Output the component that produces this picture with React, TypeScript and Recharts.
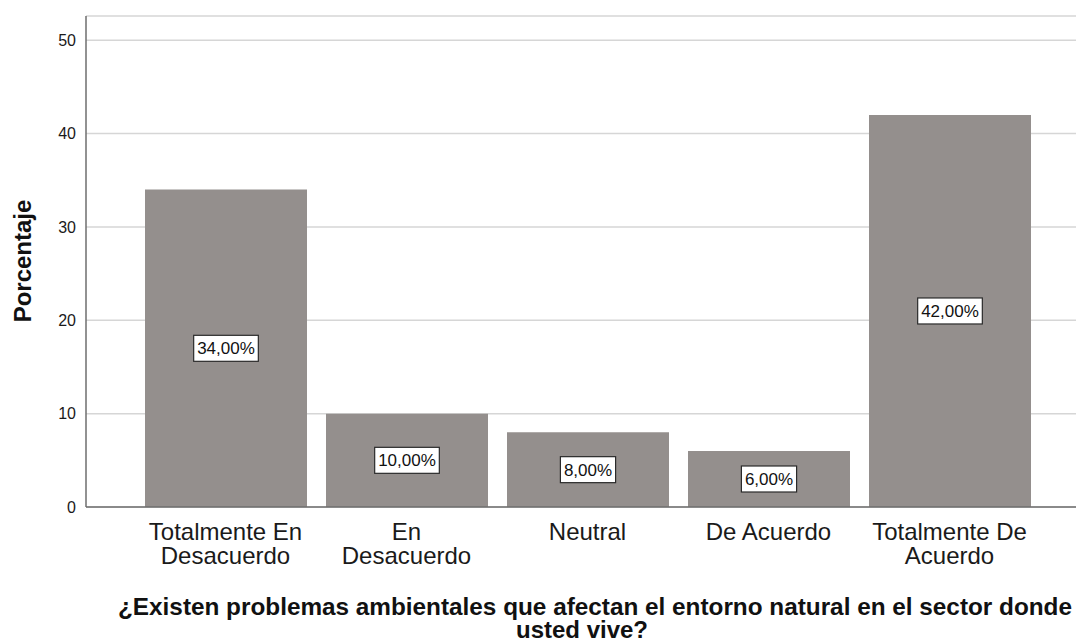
import React from "react";
import { BarChart, Bar, XAxis, YAxis, CartesianGrid, LabelList, Label } from "recharts";

const categories = [
  "Totalmente En\nDesacuerdo",
  "En\nDesacuerdo",
  "Neutral",
  "De Acuerdo",
  "Totalmente De\nAcuerdo",
];
const percentages = [34, 10, 8, 6, 42];
const yTicks = [0, 10, 20, 30, 40, 50];
const yLabel = "Porcentaje";
const titleLines = [
  "¿Existen problemas ambientales que afectan el entorno natural en el sector donde",
  "usted vive?",
];

const data = categories.map((c, i) => ({ name: c, value: percentages[i] }));

const FONT = "'Liberation Sans', Arial, sans-serif";

const fmt = (v: number) => v.toFixed(2).replace(".", ",") + "%";

const textWidth = (s: string, size: number) => {
  let w = 0;
  for (const ch of s) {
    if (ch === "," || ch === ".") w += 0.278;
    else if (ch === "%") w += 0.889;
    else w += 0.556;
  }
  return w * size;
};

const XTick = (props: any) => {
  const { x, y, payload } = props;
  const lines = String(payload.value).split("\n");
  return (
    <text x={x} y={y} textAnchor="middle" fontFamily={FONT} fontSize={24} fill="#1a1a1a">
      {lines.map((l, i) => (
        <tspan key={i} x={x} y={y + 25 + i * 24}>
          {l}
        </tspan>
      ))}
    </text>
  );
};

const BoxLabel = (props: any) => {
  const { x, y, width, height, value } = props;
  const cx = x + width / 2;
  const cy = y + height / 2;
  const s = fmt(value);
  const w = textWidth(s, 17) + 7;
  const h = 26;
  return (
    <g>
      <rect x={cx - w / 2} y={cy - h / 2} width={w} height={h} fill="#ffffff" stroke="#2a2a2a" strokeWidth={1.2} />
      <text x={cx} y={cy + 6} textAnchor="middle" fontFamily={FONT} fontSize={17} fill="#111">
        {s}
      </text>
    </g>
  );
};

const TitleLabel = (props: any) => {
  const vb = props.viewBox || {};
  const y0 = vb.y ?? 507;
  return (
    <text fontFamily={FONT} fontSize={24} fontWeight="bold" fill="#111" textAnchor="middle">
      <tspan x={595} y={y0 + 108} textLength={954} lengthAdjust="spacingAndGlyphs">{titleLines[0]}</tspan>
      <tspan x={582} y={y0 + 131}>{titleLines[1]}</tspan>
    </text>
  );
};

const YLabel = () => (
  <text
    x={31}
    y={261}
    transform="rotate(-90, 31, 261)"
    textAnchor="middle"
    fontFamily={FONT}
    fontSize={24}
    fontWeight="bold"
    fill="#111"
  >
    {yLabel}
  </text>
);

export default function App() {
  return (
    <div style={{ position: "absolute", left: 0, top: 0, width: 1076, height: 642, background: "#fff" }}>
      <BarChart
        width={1076}
        height={642}
        data={data}
        margin={{ top: 16, right: 0, bottom: 0, left: 0 }}
        barSize={162}
      >
        <CartesianGrid vertical={false} stroke="#d6d6d6" strokeWidth={1.5} />
        <XAxis
          dataKey="name"
          height={135}
          interval={0}
          tickLine={false}
          axisLine={{ stroke: "#6e6e6e", strokeWidth: 1.5 }}
          padding={{ left: 49, right: 36 }}
          tick={<XTick />}
        >
          <Label content={<TitleLabel />} />
        </XAxis>
        <YAxis
          width={86}
          domain={[0, 52.6]}
          ticks={yTicks}
          tickLine={false}
          tickSize={6}
          tickMargin={4}
          axisLine={{ stroke: "#6e6e6e", strokeWidth: 1.5 }}
          tick={{ fontFamily: FONT, fontSize: 16, fill: "#1a1a1a" }}
        >
          <Label content={<YLabel />} />
        </YAxis>
        <Bar dataKey="value" fill="#948f8d" isAnimationActive={false}>
          <LabelList dataKey="value" content={<BoxLabel />} />
        </Bar>
      </BarChart>
    </div>
  );
}
